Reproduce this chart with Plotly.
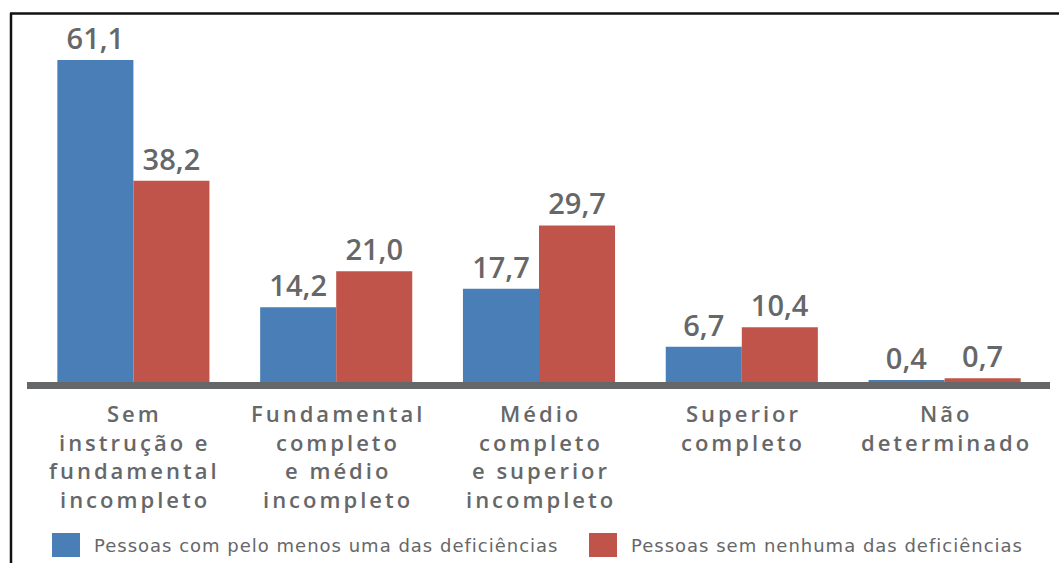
import plotly.graph_objects as go

categories = ["Sem<br>instrução e<br>fundamental<br>incompleto",
              "Fundamental<br>completo<br>e médio<br>incompleto",
              "Médio<br>completo<br>e superior<br>incompleto",
              "Superior<br>completo",
              "Não<br>determinado"]
com_deficiencia = [61.1, 14.2, 17.7, 6.7, 0.4]
sem_deficiencia = [38.2, 21.0, 29.7, 10.4, 0.7]
series_names = ["Pessoas com pelo menos uma das deficiências",
                "Pessoas sem nenhuma das deficiências"]
colors = ["#4A7EB7", "#C1544A"]
gray = "#666769"
FONT = "Open Sans"
LABEL_FONT = "DejaVu Sans"

def fmt(v):
    return f"{v:.1f}".replace(".", ",")

def spaced(t, px_):
    return f'<span style="letter-spacing:{px_}px">{t}</span>'

fig = go.Figure()
for vals, name, col in zip([com_deficiencia, sem_deficiencia], series_names, colors):
    fig.add_trace(go.Bar(
        x=categories, y=vals, name=name, marker=dict(color=col, line=dict(width=0)),
        text=[fmt(v) for v in vals], textposition="outside",
        textfont=dict(family=FONT, size=29, color=gray, weight=600),
        cliponaxis=False, showlegend=False,
    ))

L, R, T, B = 32, 13, 20, 181
W, H = 1059, 563
pw, ph = W - L - R, H - T - B
px = lambda p: (p - L) / pw
py = lambda p: (H - B - p) / ph

shapes = [
    # baseline
    dict(type="rect", xref="paper", yref="paper", x0=px(27), x1=px(1050),
         y0=py(382), y1=py(389), fillcolor=gray, line=dict(width=0), layer="above"),
    # frame top / left
    dict(type="line", xref="paper", yref="paper", x0=px(10), x1=px(1060),
         y0=py(13.5), y1=py(13.5), line=dict(color="#111", width=2.5)),
    dict(type="line", xref="paper", yref="paper", x0=px(11), x1=px(11),
         y0=py(13), y1=py(565), line=dict(color="#111", width=2.5)),
]
annotations = []
# category labels, one annotation per line for tight line spacing
for cat in categories:
    for i, line in enumerate(cat.split("<br>")):
        annotations.append(dict(xref="x", yref="paper", x=cat, y=py(413 + 28.5 * i),
                                xanchor="center", yanchor="middle", showarrow=False,
                                text=spaced(line, 3.0), xshift=1.5,
                                font=dict(family=FONT, size=22, color=gray, weight=600)))
legend_x = [52, 589]
for lx, name, col in zip(legend_x, series_names, colors):
    shapes.append(dict(type="rect", xref="paper", yref="paper",
                       x0=px(lx), x1=px(lx + 28), y0=py(533), y1=py(557),
                       fillcolor=col, line=dict(width=0)))
    annotations.append(dict(xref="paper", yref="paper", x=px(lx + 40), y=py(545),
                            xanchor="left", yanchor="middle", showarrow=False,
                            text=spaced(name, 1),
                            font=dict(family=LABEL_FONT, size=18, color=gray)))

fig.update_layout(
    width=W, height=H, margin=dict(l=L, r=R, t=T, b=B),
    paper_bgcolor="white", plot_bgcolor="white",
    barmode="group", bargap=0.25, bargroupgap=0,
    xaxis=dict(showgrid=False, showline=False, ticks="", zeroline=False, showticklabels=False),
    yaxis=dict(range=[0, (H - B - T) / 5.27], visible=False, showgrid=False, zeroline=False),
    shapes=shapes, annotations=annotations,
)
fig.write_html("out.html")
